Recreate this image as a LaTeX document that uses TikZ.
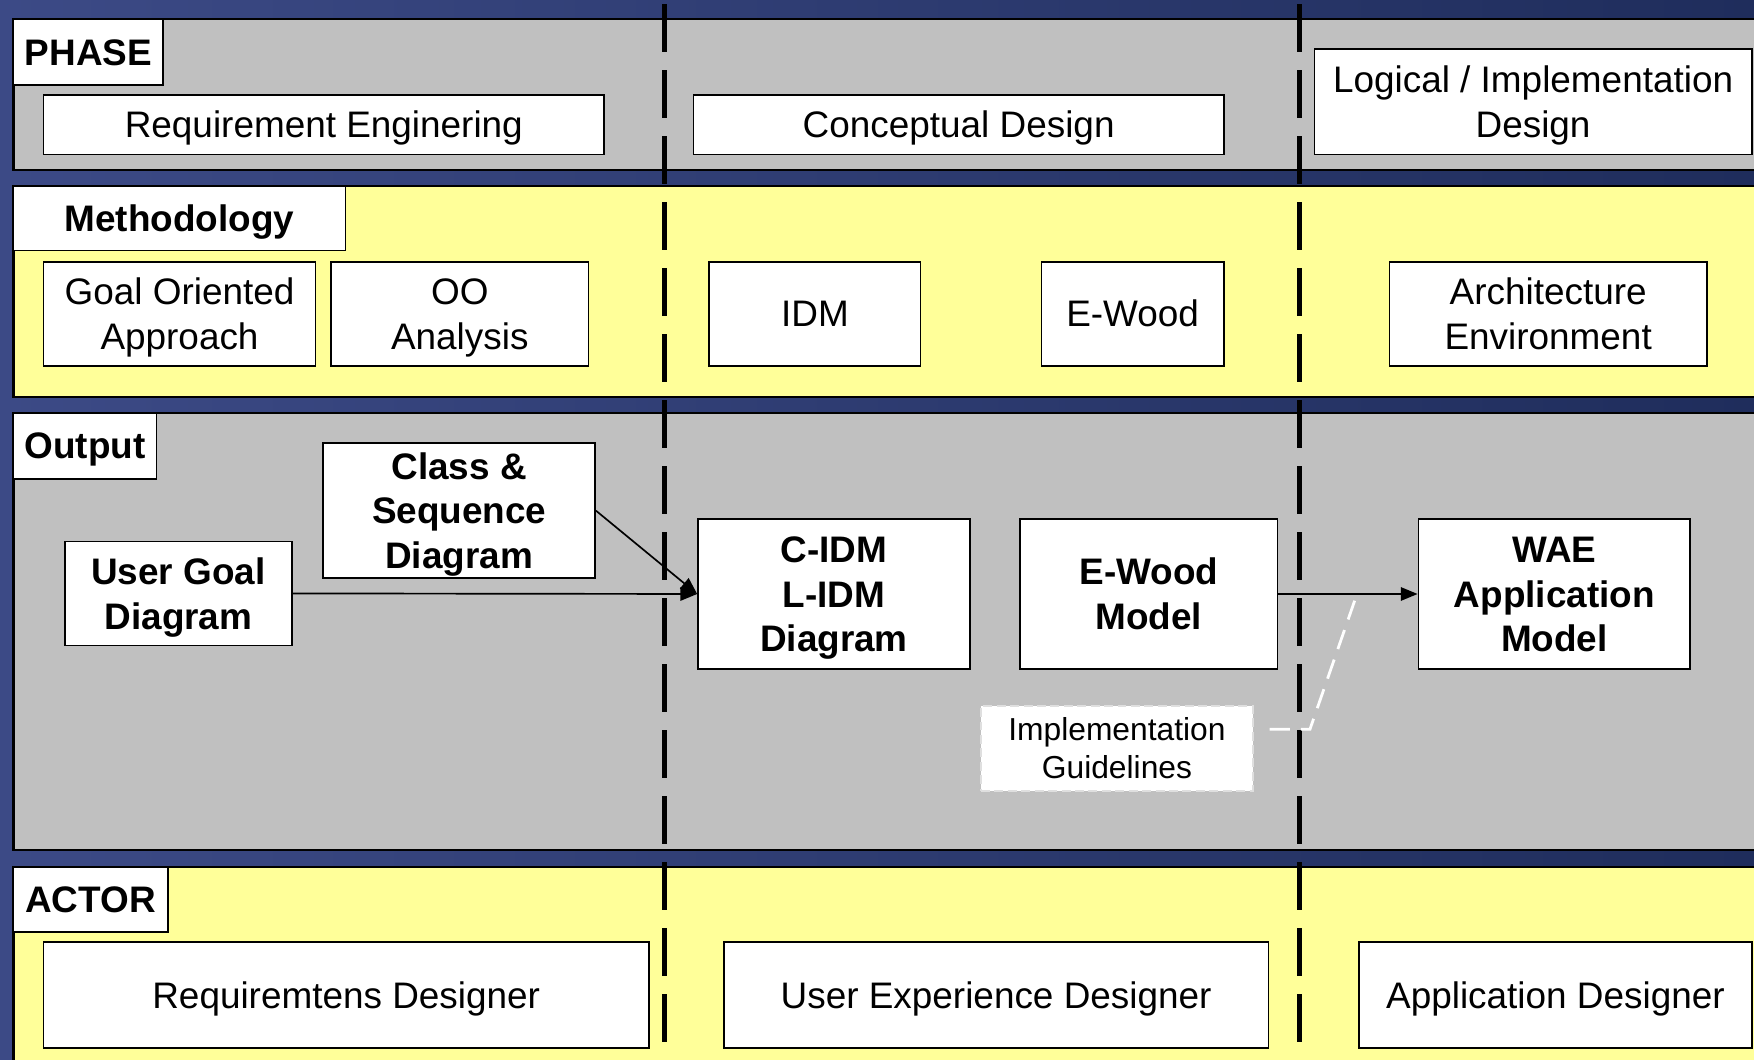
\documentclass[tikz,border=0pt]{standalone}
\usepackage{fontspec}
\setmainfont{Liberation Sans}
\usetikzlibrary{arrows.meta,calc}

\definecolor{navy}{RGB}{31,45,92}
\definecolor{navylight}{RGB}{60,74,134}
\definecolor{bandgray}{RGB}{192,192,192}
\definecolor{bandyellow}{RGB}{255,255,153}

% body text: each line is given a strut that centres its capitals
\newcommand{\boxfont}{\fontsize{33}{40}\selectfont
  \setbox\strutbox\hbox{\vrule height31.8pt depth8.2pt width0pt}}
\newcommand{\notefont}{\fontsize{28.4}{34}\selectfont
  \setbox\strutbox\hbox{\vrule height27.15pt depth6.85pt width0pt}}
% centred stack of lines
\newcommand{\lines}[1]{\begin{tabular}{@{}c@{}}#1\end{tabular}}

\begin{document}
\begin{tikzpicture}[x=1pt,y=-1pt,
  band/.style={draw=black, line width=2pt},
  tag/.style={draw=black, fill=white, line width=1.5pt, inner sep=0pt, font=\boxfont\bfseries},
  box/.style={draw=black, fill=white, line width=1.5pt, inner sep=0pt, font=\boxfont},
  boldbox/.style={box, font=\boxfont\bfseries},
  note/.style={draw=gray!25, fill=white, line width=2pt, dash pattern=on 8pt off 4pt,
    inner sep=0pt, font=\notefont},
  divider/.style={draw=black, line width=4.5pt, dash pattern=on 43pt off 16pt},
  flow/.style={draw=black, line width=1.5pt, -{Triangle[length=15pt,width=12pt]}},
  guide/.style={draw=white, line width=2.5pt, dash pattern=on 18pt off 10pt},
]
\useasboundingbox (0,0) rectangle (1568,947);
\clip (0,0) rectangle (1568,947);

% backdrop
\shade[left color=navylight, middle color=navy!85!navylight, right color=navy]
  (0,0) rectangle (1568,947);

% swim lanes
\draw[band, fill=bandgray]   (12,17)  rectangle (1600,152);
\draw[band, fill=bandyellow] (12,166) rectangle (1600,355);
\draw[band, fill=bandgray]   (12,369) rectangle (1600,760);
\draw[band, fill=bandyellow] (12,775) rectangle (1600,990);

% phase dividers
\draw[divider] (594,3.6) -- (594,947);
\draw[divider] (1162,3.6) -- (1162,947);

% lane titles
\node[tag, minimum width=134pt, minimum height=59pt] (phase) at (79,46.5) {\lines{PHASE}};
\node[tag, minimum width=297pt, minimum height=58pt] (meth) at (160.5,195) {\lines{Methodology}};
\node[tag, minimum width=128pt, minimum height=59pt] (out) at (76,398.5) {\lines{Output}};
\node[tag, minimum width=138pt, minimum height=58pt] (actor) at (81,804) {\lines{ACTOR}};

% phases
\node[box, minimum width=501pt, minimum height=53pt] (re) at (289.5,111.5) {\lines{Requirement Enginering}};
\node[box, minimum width=474pt, minimum height=53pt] (cd) at (857,111.5) {\lines{Conceptual Design}};
\node[box, minimum width=391pt, minimum height=94pt] (lid) at (1370.5,91) {\lines{Logical / Implementation\\Design}};

% methodologies
\node[box, minimum width=243pt, minimum height=93pt] (goa) at (160.5,280.5) {\lines{Goal Oriented\\Approach}};
\node[box, minimum width=230pt, minimum height=93pt] (ooa) at (411,280.5) {\lines{OO\\Analysis}};
\node[box, minimum width=189pt, minimum height=93pt] (idm) at (728.5,280.5) {\lines{IDM}};
\node[box, minimum width=163pt, minimum height=93pt] (ewood) at (1012.5,280.5) {\lines{E-Wood}};
\node[box, minimum width=284pt, minimum height=93pt] (arch) at (1384,280.5) {\lines{Architecture\\Environment}};

% outputs
\node[boldbox, minimum width=203pt, minimum height=93pt] (ugd) at (159.5,530.5) {\lines{User Goal\\Diagram}};
\node[boldbox, minimum width=243pt, minimum height=121pt] (csd) at (410.5,456.5) {\lines{Class \&\\Sequence\\Diagram}};
\node[boldbox, minimum width=243pt, minimum height=134pt] (cidm) at (745.5,531) {\lines{C-IDM\\L-IDM\\Diagram}};
\node[boldbox, minimum width=230pt, minimum height=134pt] (ewm) at (1027,531) {\lines{E-Wood\\Model}};
\node[boldbox, minimum width=243pt, minimum height=134pt] (wae) at (1389.5,531) {\lines{WAE\\Application\\Model}};
\node[note, minimum width=243pt, minimum height=76pt] (ig) at (998.5,669) {\lines{Implementation\\Guidelines}};

% actors
\node[box, minimum width=541pt, minimum height=95pt] (rd) at (309.5,889.5) {\lines{Requiremtens Designer}};
\node[box, minimum width=487pt, minimum height=95pt] (uxd) at (890.5,889.5) {\lines{User Experience Designer}};
\node[box, minimum width=351pt, minimum height=95pt] (ad) at (1390.5,889.5) {\lines{Application Designer}};

% flows between outputs
\draw[flow] (ugd.east) -- (cidm.west);
\draw[flow] (csd.east) -- (cidm.west);
\draw[flow] (ewm.east) -- (wae.west);

% guidelines applied to the logical step
\coordinate (tap) at (1211,537);
\draw[guide] ([xshift=14pt,yshift=17pt]ig.east) -- ++(36,0) -- (tap);
\end{tikzpicture}
\end{document}
